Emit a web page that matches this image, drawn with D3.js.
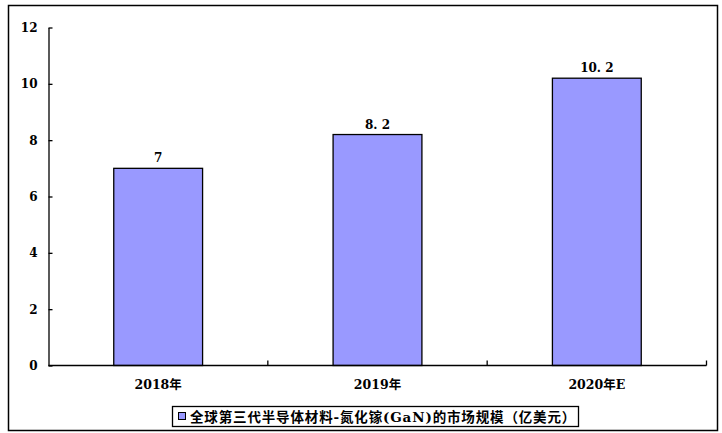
<!DOCTYPE html>
<html><head><meta charset="utf-8">
<script src="https://cdn.jsdelivr.net/npm/d3@7"></script>
<style>body{margin:0;background:#fff}svg{display:block}text{font-family:"DejaVu Serif","Noto Sans CJK SC",serif;font-weight:bold;fill:#000}</style>
</head><body><svg id="c" width="722" height="433"></svg>
<script>
const categories = ["2018年","2019年","2020年E"];
const values = [7, 8.2, 10.2];
const valueLabels = ["7","8. 2","10. 2"];
const yTicks = [0,2,4,6,8,10,12];
const seriesName = "全球第三代半导体材料-氮化镓(GaN)的市场规模（亿美元）";

const svg = d3.select("#c");
svg.append("rect").attr("x",8.5).attr("y",5.5).attr("width",709).attr("height",425)
  .attr("fill","#fff").attr("stroke","#000").attr("stroke-width",1.5);

const x = d3.scaleBand().domain(categories).range([48.5,706.5]).paddingInner(0.595).paddingOuter(0.2975);
const xb = d3.scaleBand().domain(categories).range([48.5,706.5]);
const y = d3.scaleLinear().domain([0,12]).range([365.5,27.5]);

// y axis
const ya = svg.append("g").attr("transform","translate(48.5,0)")
  .call(d3.axisLeft(y).tickValues(yTicks).tickSizeInner(-4).tickSizeOuter(0).tickPadding(11));
ya.select(".domain").attr("stroke","#000").attr("stroke-width",1.3);
ya.selectAll(".tick line").attr("stroke","#000").attr("stroke-width",1.3);
ya.selectAll(".tick text").style("font-size","12px").attr("font-family",null);

// bars
svg.selectAll("rect.bar").data(values).enter().append("rect").attr("class","bar")
  .attr("x",(d,i)=>x(categories[i])).attr("width",x.bandwidth())
  .attr("y",d=>y(d)).attr("height",d=>y(0)-y(d))
  .attr("fill","#9999FF").attr("stroke","#000").attr("stroke-width",1.3);

svg.selectAll("text.val").data(values).enter().append("text").attr("class","val")
  .attr("x",(d,i)=>x(categories[i])+x.bandwidth()/2).attr("y",d=>y(d)-6)
  .attr("text-anchor","middle").style("font-size","12px")
  .text((d,i)=>valueLabels[i]);

// x axis
svg.append("line").attr("x1",48.5).attr("x2",706.5).attr("y1",y(0)).attr("y2",y(0))
  .attr("stroke","#000").attr("stroke-width",1.3);
const bounds = categories.map(c=>xb(c)+xb.bandwidth());
svg.selectAll("line.xt").data(bounds).enter().append("line").attr("class","xt")
  .attr("x1",d=>d).attr("x2",d=>d).attr("y1",y(0)).attr("y2",y(0)-5)
  .attr("stroke","#000").attr("stroke-width",1.3);
svg.selectAll("text.cat").data(categories).enter().append("text").attr("class","cat")
  .attr("x",d=>xb(d)+xb.bandwidth()/2).attr("y",389).attr("text-anchor","middle")
  .style("font-size","12.5px").text(d=>d);

// legend
const lg = svg.append("g");
lg.append("rect").attr("x",172.5).attr("y",406.5).attr("width",406).attr("height",20)
  .attr("fill","#fff").attr("stroke","#000").attr("stroke-width",1.3);
lg.append("rect").attr("x",178.5).attr("y",412.5).attr("width",7).attr("height",7)
  .attr("fill","#9999FF").attr("stroke","#000").attr("stroke-width",1);
lg.append("text").attr("x",190).attr("y",421.5).style("font-size","13.5px")
  .style("letter-spacing","0.85px").text(seriesName);
</script></body></html>
